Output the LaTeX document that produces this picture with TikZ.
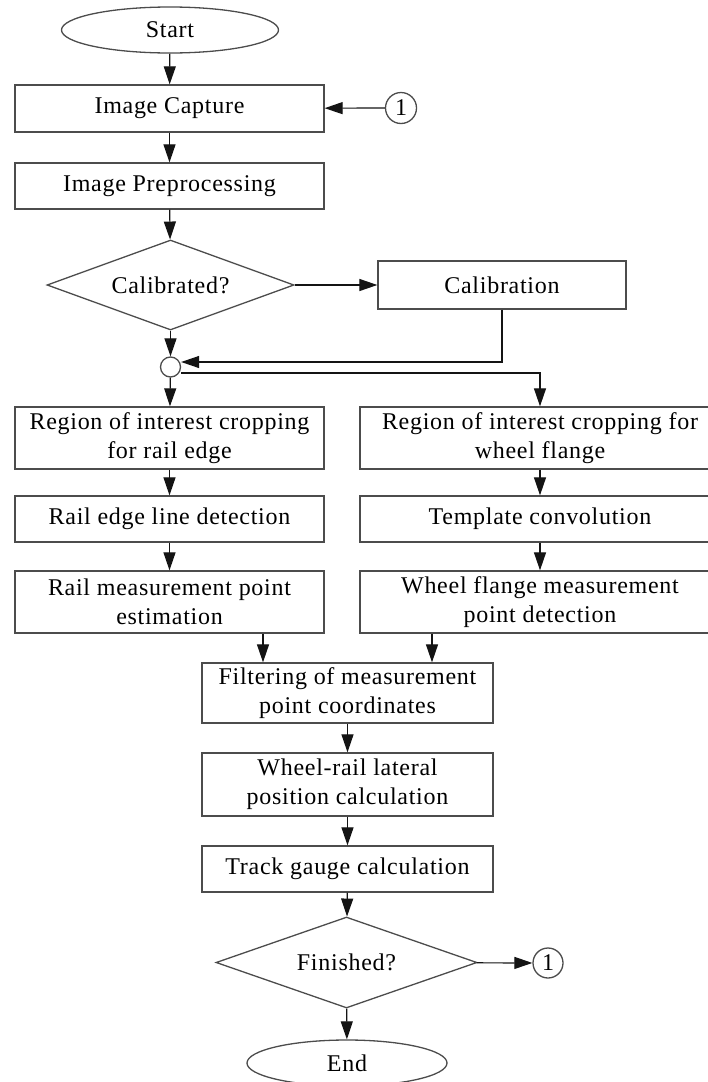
\documentclass[tikz,border=0pt]{standalone}
\usepackage{fontspec}
\setmainfont{Liberation Serif}[LetterSpace=3]
\usepackage{tikz}
\usetikzlibrary{shapes.geometric,arrows.meta}
\definecolor{frame gray}{rgb}{0.30, 0.30, 0.30}
\definecolor{arrow black}{rgb}{0.08, 0.08, 0.08}

\begin{document}
\begin{tikzpicture}[x=1pt, y=-1pt,
		every node/.style={font=\fontsize{24}{29}\selectfont, align=center, inner sep=0pt},
		box/.style={draw=frame gray, line width=1.3pt, rectangle},
		decide/.style={draw=frame gray, line width=1.3pt, diamond},
		term/.style={draw=frame gray, line width=1.3pt, ellipse},
		conn/.style={draw=frame gray, line width=1.3pt, circle, fill=white},
		arr/.style={draw=arrow black, line width=1.2pt, -{Triangle[length=18pt, width=12pt]}}]
		\useasboundingbox (0, 0) rectangle (708, 1082);
		% part for start and capture
		\node[term, minimum width=217pt, minimum height=46pt] (start) at (170, 30) {Start};
		\node[box, minimum width=309pt, minimum height=47pt] (capture) at (169.5, 108.5) {Image Capture};
		\node[conn, minimum size=31pt] (loopin) at (401, 108) {1};
		\node[box, minimum width=309pt, minimum height=46pt] (preproc) at (169.5, 186) {Image Preprocessing};
		\node[decide, aspect=2.74, minimum width=247pt, minimum height=90pt] (calibq) at (170.5, 285) {Calibrated?};
		\node[box, minimum width=248pt, minimum height=48pt] (calib) at (502, 285) {Calibration};
		\node[conn, minimum size=20pt] (join) at (170.5, 367) {};
		% part for the two branches
		\node[box, minimum width=309pt, minimum height=62pt] (roirail) at (169.5, 438) {Region of interest cropping\\for rail edge};
		\node[box, minimum width=309pt, minimum height=46pt] (edgeline) at (169.5, 519) {Rail edge line detection};
		\node[box, minimum width=309pt, minimum height=62pt] (railpt) at (169.5, 602) {Rail measurement point\\estimation};
		\node[box, minimum width=360pt, minimum height=62pt] (roiflange) at (540, 438) {Region of interest cropping for\\wheel flange};
		\node[box, minimum width=360pt, minimum height=46pt] (templ) at (540, 519) {Template convolution};
		\node[box, minimum width=360pt, minimum height=62pt] (flangept) at (540, 602) {Wheel flange measurement\\point detection};
		% part for the common tail
		\node[box, minimum width=291pt, minimum height=60pt] (filter) at (347.5, 693) {Filtering of measurement\\point coordinates};
		\node[box, minimum width=291pt, minimum height=63pt] (lateral) at (347.5, 784.5) {Wheel-rail lateral\\position calculation};
		\node[box, minimum width=291pt, minimum height=46pt] (gauge) at (347.5, 869) {Track gauge calculation};
		\node[decide, aspect=2.87, minimum width=261pt, minimum height=91pt] (finq) at (346.5, 962.5) {Finished?};
		\node[conn, minimum size=30pt] (loopout) at (548, 963) {1};
		\node[term, minimum width=200pt, minimum height=46pt] (end) at (347, 1063) {End};
		% arrows
		\draw[arr] (start) -- (capture);
		\draw[arr] (loopin) -- (capture);
		\draw[arr] (capture) -- (preproc);
		\draw[arr] (preproc) -- (calibq);
		\draw[arr] (calibq) -- (calib);
		\draw[arr] (calibq) -- (join);
		\draw[arr] (calib.south) |- ([yshift=5pt]join.east);
		\draw[arr] (join) -- (roirail);
		\draw[arr] ([yshift=-6pt]join.east) -| (roiflange.north);
		\draw[arr] (roirail) -- (edgeline);
		\draw[arr] (edgeline) -- (railpt);
		\draw[arr] (roiflange) -- (templ);
		\draw[arr] (templ) -- (flangept);
		\draw[arr] ([xshift=93.5pt]railpt.south) -- ([xshift=93.5pt]railpt.south |- filter.north);
		\draw[arr] ([xshift=-108pt]flangept.south) -- ([xshift=-108pt]flangept.south |- filter.north);
		\draw[arr] (filter) -- (lateral);
		\draw[arr] (lateral) -- (gauge);
		\draw[arr] (gauge) -- (finq);
		\draw[arr] (finq) -- (loopout);
		\draw[arr] (finq) -- (end);
	\end{tikzpicture}
\end{document}
